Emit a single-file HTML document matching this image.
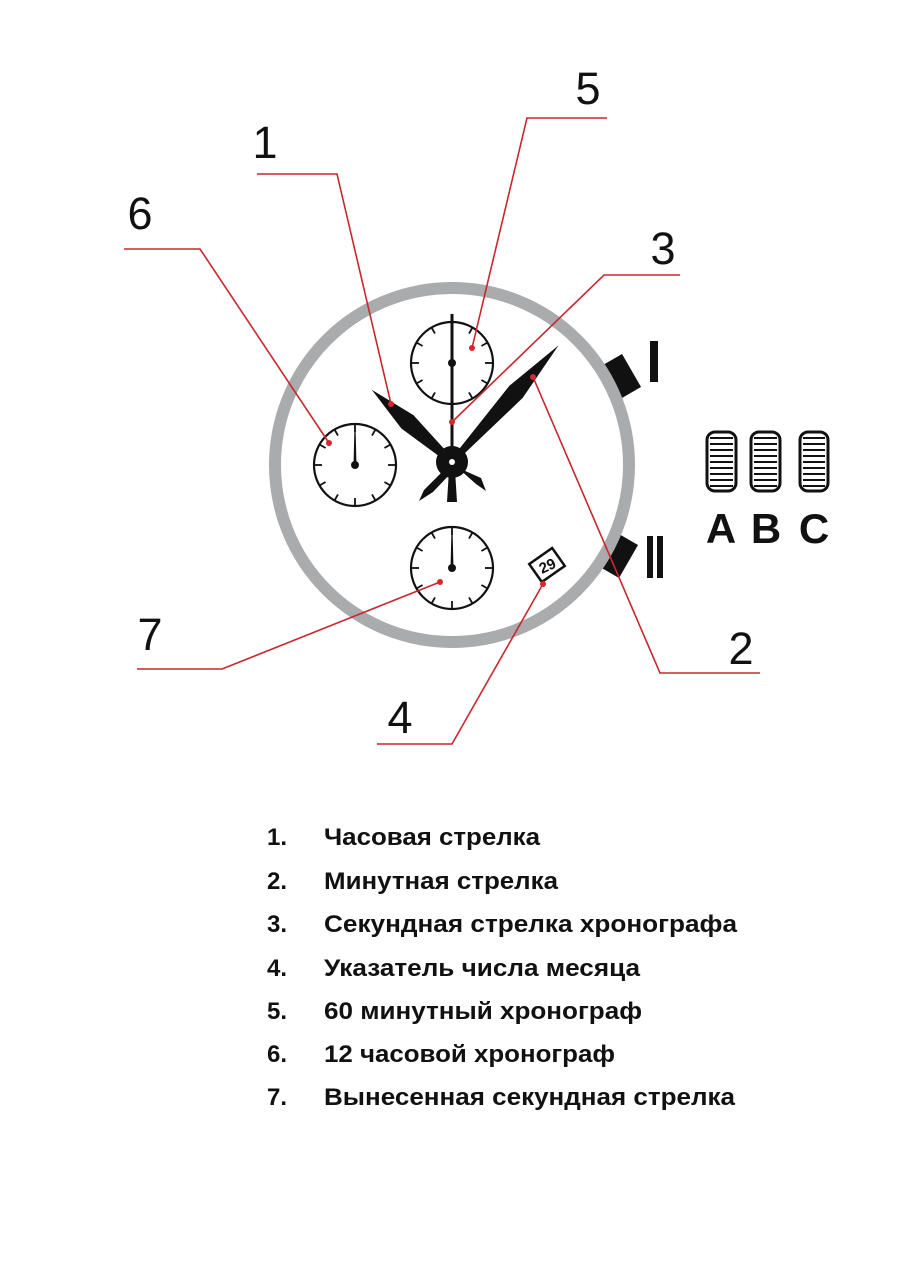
<!DOCTYPE html>
<html><head><meta charset="utf-8"><style>
html,body{margin:0;padding:0;background:#fff}
svg{display:block}
</style></head><body>
<svg width="904" height="1280" viewBox="0 0 904 1280" xmlns="http://www.w3.org/2000/svg">
<rect width="904" height="1280" fill="#fff"/>
<!-- crowns -->
<g fill="#111">
<rect x="-11" y="-19" width="22" height="38" transform="translate(622,376) rotate(-30)"/>
<rect x="-11" y="-19" width="22" height="38" transform="translate(619,556) rotate(30)"/>
<rect x="650" y="341" width="8" height="41"/>
<rect x="647" y="536" width="6" height="42"/>
<rect x="657" y="536" width="6" height="42"/>
</g>
<!-- ring -->
<circle cx="452" cy="465" r="177" fill="#fff" stroke="#a9abad" stroke-width="12"/>
<!-- subdials -->
<g fill="none" stroke="#111" stroke-width="2.2">
<circle cx="452" cy="363" r="41"/>
<circle cx="355" cy="465" r="41"/>
<circle cx="452" cy="568" r="41"/>
</g>
<defs>
<g id="ticks" stroke="#111" stroke-width="1.8">
<line x1="0" y1="-41" x2="0" y2="-33"/>
<line x1="0" y1="-41" x2="0" y2="-34" transform="rotate(30)"/>
<line x1="0" y1="-41" x2="0" y2="-34" transform="rotate(60)"/>
<line x1="0" y1="-41" x2="0" y2="-33" transform="rotate(90)"/>
<line x1="0" y1="-41" x2="0" y2="-34" transform="rotate(120)"/>
<line x1="0" y1="-41" x2="0" y2="-34" transform="rotate(150)"/>
<line x1="0" y1="-41" x2="0" y2="-33" transform="rotate(180)"/>
<line x1="0" y1="-41" x2="0" y2="-34" transform="rotate(210)"/>
<line x1="0" y1="-41" x2="0" y2="-34" transform="rotate(240)"/>
<line x1="0" y1="-41" x2="0" y2="-33" transform="rotate(270)"/>
<line x1="0" y1="-41" x2="0" y2="-34" transform="rotate(300)"/>
<line x1="0" y1="-41" x2="0" y2="-34" transform="rotate(330)"/>
</g>
</defs>
<use href="#ticks" transform="translate(452,363)"/>
<use href="#ticks" transform="translate(355,465)"/>
<use href="#ticks" transform="translate(452,568)"/>
<!-- subdial hands -->
<g fill="#111">
<polygon points="353.5,465 354.5,425 355.5,425 356.5,465"/>
<circle cx="355" cy="465" r="4"/>
<polygon points="450.5,568 451.5,528 452.5,528 453.5,568"/>
<circle cx="452" cy="568" r="4"/>
<rect x="450.5" y="314" width="3" height="186"/>
<circle cx="452" cy="363" r="4"/>
<polygon points="0,-3 60,-9 108,0 60,9 0,3" transform="translate(452,462) rotate(222)"/>
<polygon points="0,-2.5 95,-9 158,0 95,9 0,2.5" transform="translate(452,462) rotate(-47.6)"/>
<polygon points="446,468 424,490 419,501 433,492 452,472"/>
<polygon points="458,468 476,484 486,491 481,478 454,466"/>
<polygon points="449,470 447,502 457,502 455,470"/>
<circle cx="452" cy="462" r="16"/>
</g>
<circle cx="452" cy="462" r="3" fill="#fff"/>
<!-- date window -->
<g transform="translate(547,565) rotate(-35)">
<rect x="-14" y="-11" width="28" height="22" fill="#fff" stroke="#111" stroke-width="2.5"/>
<text x="0" y="6" font-family="Liberation Sans,sans-serif" font-weight="bold" font-size="15" text-anchor="middle" fill="#111" transform="rotate(10)">29</text>
</g>
<!-- pushers -->
<g fill="none" stroke="#111" stroke-width="3">
<rect x="707" y="432" width="29" height="59" rx="8"/>
<rect x="751" y="432" width="29" height="59" rx="8"/>
<rect x="800" y="432" width="28" height="59" rx="8"/>
</g>
<g stroke="#111" stroke-width="2">
<path d="M710 438H733M710 444H733M710 450H733M710 456H733M710 462H733M710 468H733M710 474H733M710 480H733M710 486H733"/>
<path d="M754 438H777M754 444H777M754 450H777M754 456H777M754 462H777M754 468H777M754 474H777M754 480H777M754 486H777"/>
<path d="M803 438H825M803 444H825M803 450H825M803 456H825M803 462H825M803 468H825M803 474H825M803 480H825M803 486H825"/>
</g>
<g font-family="Liberation Sans,sans-serif" font-weight="bold" font-size="42" fill="#111" text-anchor="middle">
<text x="721" y="543">A</text><text x="766" y="543">B</text><text x="814" y="543">C</text>
</g>
<!-- leaders -->
<g stroke="#c8272d" stroke-width="1.6" fill="none">
<polyline points="607,118 527,118 472,348"/>
<polyline points="257,174 337,174 391,404"/>
<polyline points="124,249 200,249 329,443"/>
<polyline points="680,275 604,275 452,422"/>
<polyline points="760,673 660,673 533,377"/>
<polyline points="137,669 222,669 440,582"/>
<polyline points="377,744 452,744 543,584"/>
</g>
<g fill="#d7262d">
<circle cx="472" cy="348" r="3"/><circle cx="391" cy="404" r="3"/><circle cx="329" cy="443" r="3"/>
<circle cx="452" cy="422" r="3"/><circle cx="533" cy="377" r="3"/><circle cx="440" cy="582" r="3"/><circle cx="543" cy="584" r="3"/>
</g>
<g font-family="Liberation Sans,sans-serif" font-size="45" fill="#111" text-anchor="middle">
<text x="588" y="104">5</text>
<text x="265" y="158">1</text>
<text x="140" y="229">6</text>
<text x="663" y="264">3</text>
<text x="741" y="664">2</text>
<text x="150" y="650">7</text>
<text x="400" y="733">4</text>
</g>
<!-- list -->
<g font-family="Liberation Sans,sans-serif" font-weight="bold" font-size="24" fill="#111">
<text x="267" y="845">1.</text><text x="324" y="845" textLength="216" lengthAdjust="spacingAndGlyphs">Часовая стрелка</text>
<text x="267" y="889">2.</text><text x="324" y="889" textLength="234" lengthAdjust="spacingAndGlyphs">Минутная стрелка</text>
<text x="267" y="932">3.</text><text x="324" y="932" textLength="413" lengthAdjust="spacingAndGlyphs">Секундная стрелка хронографа</text>
<text x="267" y="976">4.</text><text x="324" y="976" textLength="316" lengthAdjust="spacingAndGlyphs">Указатель числа месяца</text>
<text x="267" y="1019">5.</text><text x="324" y="1019" textLength="318" lengthAdjust="spacingAndGlyphs">60 минутный хронограф</text>
<text x="267" y="1062">6.</text><text x="324" y="1062" textLength="291" lengthAdjust="spacingAndGlyphs">12 часовой хронограф</text>
<text x="267" y="1105">7.</text><text x="324" y="1105" textLength="411" lengthAdjust="spacingAndGlyphs">Вынесенная секундная стрелка</text>
</g>
</svg>
</body></html>
